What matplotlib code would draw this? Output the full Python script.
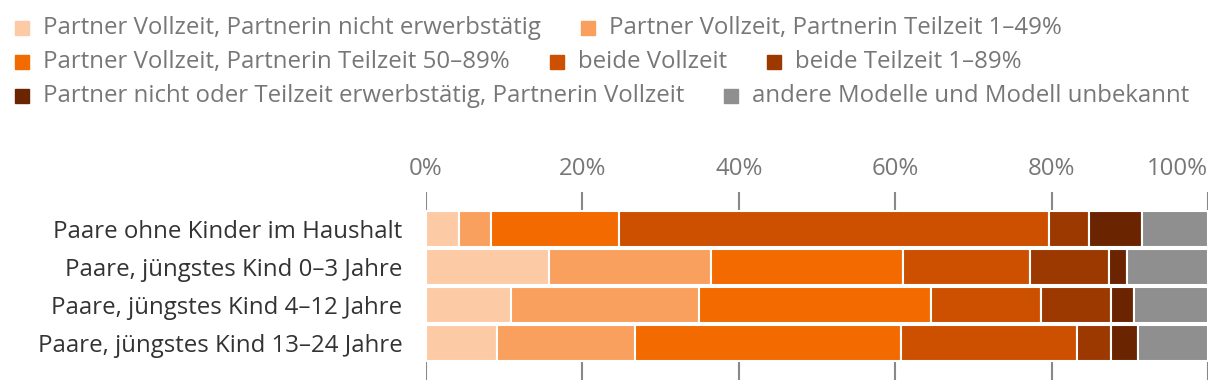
import matplotlib.pyplot as plt
import numpy as np

plt.rcParams["font.family"] = ["Open Sans", "DejaVu Sans"]

groups = [
    "Paare ohne Kinder im Haushalt",
    "Paare, jüngstes Kind 0–3 Jahre",
    "Paare, jüngstes Kind 4–12 Jahre",
    "Paare, jüngstes Kind 13–24 Jahre",
]
series_names = [
    "Partner Vollzeit, Partnerin nicht erwerbstätig",
    "Partner Vollzeit, Partnerin Teilzeit 1–49%",
    "Partner Vollzeit, Partnerin Teilzeit 50–89%",
    "beide Vollzeit",
    "beide Teilzeit 1–89%",
    "Partner nicht oder Teilzeit erwerbstätig, Partnerin Vollzeit",
    "andere Modelle und Modell unbekannt",
]
# one list per series, values for the four groups (percent)
nicht_erwerbstaetig = [4.2, 15.7, 10.9, 9.1]
teilzeit_1_49 = [4.1, 20.8, 24.0, 17.6]
teilzeit_50_89 = [16.4, 24.5, 29.7, 34.1]
beide_vollzeit = [55.0, 16.2, 14.1, 22.5]
beide_teilzeit = [5.1, 10.2, 8.9, 4.3]
partnerin_vollzeit = [6.7, 2.3, 2.9, 3.4]
andere = [8.5, 10.3, 9.5, 9.0]
values = [nicht_erwerbstaetig, teilzeit_1_49, teilzeit_50_89, beide_vollzeit,
          beide_teilzeit, partnerin_vollzeit, andere]
colors = ["#fccba6", "#f9a05e", "#f26a00", "#cd5000", "#9b3900", "#6b2400", "#8f8f8f"]
ticks = [0, 20, 40, 60, 80, 100]

FS = 17.3

fig = plt.figure(figsize=(12.2, 3.92), dpi=100)
ax = fig.add_axes([426 / 1220, 12 / 392, 782 / 1220, 188 / 392])

y = np.arange(len(groups))
left = np.zeros(len(groups))
for vals, col in zip(values, colors):
    ax.barh(y, vals, left=left, height=0.93, color=col, edgecolor="white", linewidth=1.5)
    left += np.array(vals)

ax.set_ylim(3.97, -0.97)
ax.set_xlim(0, 100)
ax.set_xticks(ticks)
ax.set_xticklabels([f"{t}%" for t in ticks])
ax.xaxis.tick_top()
ax.tick_params(axis="x", length=0, pad=8, labelsize=FS, labelcolor="#777777")
ax.get_xticklabels()[-1].set_horizontalalignment("right")
ax.set_yticks(y)
ax.set_yticklabels(groups)
ax.tick_params(axis="y", length=0, pad=17, labelsize=FS, labelcolor="#333333")
ax.grid(axis="x", color="#888888", linewidth=1.5)
ax.set_axisbelow(True)
for s in ax.spines.values():
    s.set_visible(False)

# flowing legend at the top
rows = [[0, 1], [2, 3, 4], [5, 6]]
row_y = [28, 62, 96]
fig.canvas.draw()
renderer = fig.canvas.get_renderer()
for row, yy in zip(rows, row_y):
    x = 15
    for i in row:
        fig.patches.append(plt.Rectangle((x / 1220, 1 - (yy + 7) / 392), 14 / 1220, 14 / 392,
                                         transform=fig.transFigure, color=colors[i]))
        t = fig.text((x + 28) / 1220, 1 - yy / 392, series_names[i], fontsize=FS,
                     color="#777777", va="center", ha="left")
        w = t.get_window_extent(renderer).width
        x = x + 28 + w + 40

fig.savefig("out.png", dpi=100)
